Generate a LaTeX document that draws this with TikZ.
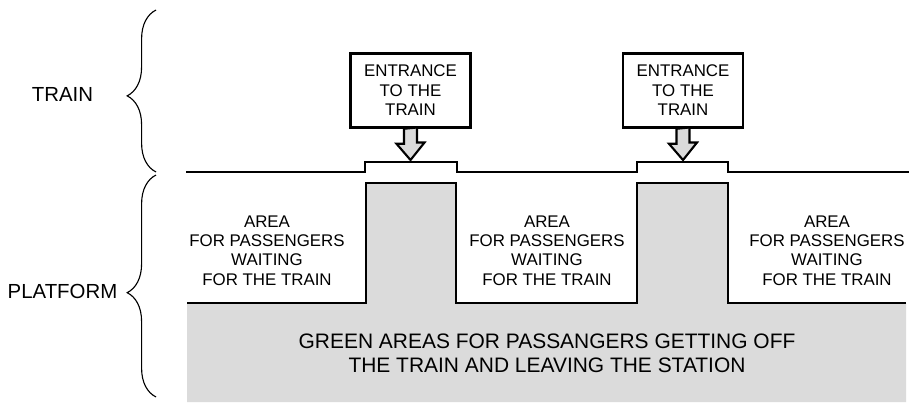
\documentclass[tikz,border=0pt]{standalone}
\usepackage{fontspec}
\setmainfont{Liberation Sans}
\usepackage{tikz}
\usetikzlibrary{decorations.pathreplacing}
\definecolor{platformgray}{gray}{0.86}
\tikzstyle{entrance} = [rectangle, draw=black, line width=1.8pt, fill=white, minimum width=3.0cm, minimum height=1.85cm, align=center, inner sep=0pt, font=\fontsize{12}{13.8}\selectfont]
\tikzstyle{areatext} = [align=center, inner sep=0pt, font=\fontsize{12}{13.7}\selectfont]
\tikzstyle{greentext} = [align=center, inner sep=0pt, font=\fontsize{14.9}{16.7}\selectfont]
\tikzstyle{sidetext} = [inner sep=0pt, font=\fontsize{14.5}{17}\selectfont]
\tikzstyle{edge} = [line width=1.5pt, line join=miter]
\tikzstyle{doorarrow} = [line width=1.5pt, fill=platformgray, line join=miter]
\tikzstyle{bracket} = [decorate, decoration={brace, amplitude=0.72cm, aspect=0.47}, line width=0.8pt]

\begin{document}
\begin{tikzpicture}[x=0.025cm, y=-0.025cm]
\useasboundingbox (0,0) rectangle (909,402);

% Platform
\fill[platformgray] (187,303) -- (366,303) -- (366,183) -- (456,183) -- (456,303) -- (637,303) -- (637,183) -- (728,183) -- (728,303) -- (906,303) -- (906,402) -- (187,402) -- cycle;
\draw[edge] (187,303) -- (366,303) -- (366,183) -- (456,183) -- (456,303) -- (637,303) -- (637,183) -- (728,183) -- (728,303) -- (906,303);

% Train
\draw[edge] (186,172) -- (365,172) -- (365,162) -- (457,162) -- (457,172) -- (637,172) -- (637,162) -- (728,162) -- (728,172) -- (909,172);
\coordinate (door1) at (410.5,160);
\coordinate (door2) at (683,160);

% Nodes
\node (entr1) [entrance] at (410.5,90.5) {ENTRANCE\\TO THE\\TRAIN};
\node (entr2) [entrance] at (683,90.5) {ENTRANCE\\TO THE\\TRAIN};

\node (train) [sidetext] at (62.5,94.5) {TRAIN};
\node (platform) [sidetext] at (62.5,291) {PLATFORM};

\node (wait1) [areatext] at (267,250.5) {AREA\\FOR PASSENGERS\\WAITING\\FOR THE TRAIN};
\node (wait2) [areatext] at (547,250.5) {AREA\\FOR PASSENGERS\\WAITING\\FOR THE TRAIN};
\node (wait3) [areatext] at (827,250.5) {AREA\\FOR PASSENGERS\\WAITING\\FOR THE TRAIN};

\node (green) [greentext] at (547,353.5) {GREEN AREAS FOR PASSANGERS GETTING OFF\\THE TRAIN AND LEAVING THE STATION};

% Arrows
\draw[doorarrow] (entr1.south) ++(-6.5,0) -- ++(0,15) -- ++(-7.5,0) -- (door1) -- ++(14,-17.5) -- ++(-7.5,0) -- ++(0,-15) -- cycle;
\draw[doorarrow] (entr2.south) ++(-6.5,0) -- ++(0,15) -- ++(-7.5,0) -- (door2) -- ++(14,-17.5) -- ++(-7.5,0) -- ++(0,-15) -- cycle;

% Braces
\draw[bracket] (156,172) -- (156,10);
\draw[bracket] (156,397) -- (156,175);

\end{tikzpicture}
\end{document}
